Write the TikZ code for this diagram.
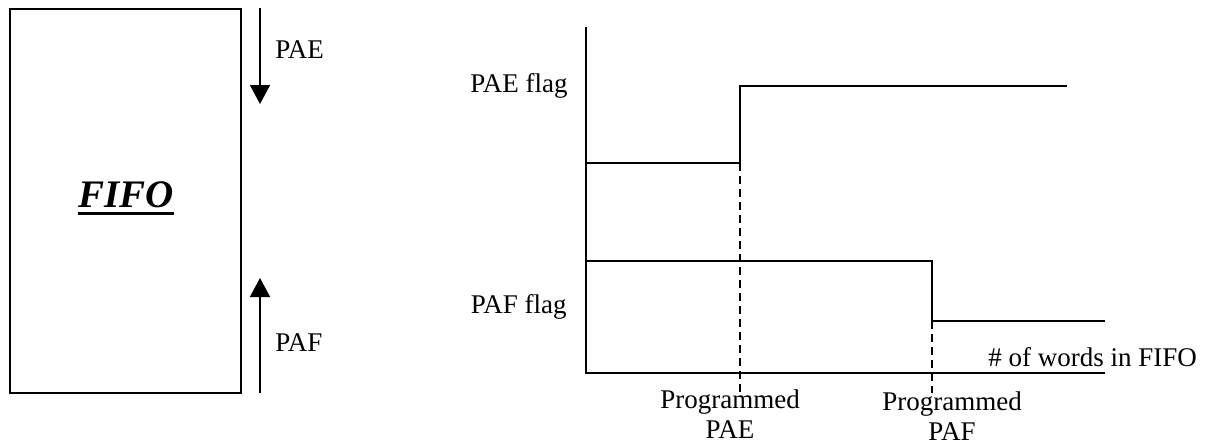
\documentclass[tikz,border=0pt]{standalone}
\usepackage{fontspec}
\setmainfont{Liberation Serif}
\usepackage{tikz}
\usetikzlibrary{arrows.meta,%
                positioning}

\newcommand{\thickul}[1]{\leavevmode\vtop{\hbox{#1}\kern2.2pt\hrule height 1.6pt}}

\tikzset{
  lbl/.style={inner sep=0pt, font=\fontsize{13.5}{15}\selectfont},
  wire/.style={line width=0.75pt},
  arr/.style={line width=0.75pt, -{Triangle[width=10pt,length=9.5pt]}},
  level/.style={line width=0.75pt, dash pattern=on 4pt off 2.5pt}
}

\begin{document}
\begin{tikzpicture}[x=0.5pt,y=-0.5pt]
\useasboundingbox (0,0) rectangle (1213,445);

% fifo block and its two thresholds
\node[wire, draw, minimum width=115.5pt, minimum height=192pt, inner sep=0pt] (fifo) at (125.5,201) {};
\node[inner sep=0pt, anchor=base, font=\fontsize{19.5}{21}\selectfont\bfseries\itshape] (name) at (126,207) {\thickul{FIFO}};

\coordinate (ae1) at (260,8);
\coordinate (ae2) at (260,104);
\coordinate (af1) at (260,393);
\coordinate (af2) at (260,278);
\draw[arr] (ae1) -- (ae2);
\draw[arr] (af1) -- (af2);
\node[lbl, anchor=base west] (lae) at (275,58) {PAE};
\node[lbl, anchor=base west] (laf) at (275,351) {PAF};

% axes
\coordinate (top) at (586,27);
\coordinate (org) at (586,373);
\coordinate (end) at (1105,373);
\draw[wire] (top) -- (org) -- (end);
\node[lbl, anchor=base west] (words) at (988,366) {\# of words in FIFO};

% PAE flag
\coordinate (e0) at (586,163);
\coordinate (e1) at (740,163);
\coordinate (e2) at (740,86);
\coordinate (e3) at (1067,86);
\draw[wire] (e0) -- (e1) -- (e2) -- (e3);
\node[lbl, anchor=base east] (fae) at (568,92) {PAE flag};

% PAF flag
\coordinate (f0) at (586,261);
\coordinate (f1) at (932,261);
\coordinate (f2) at (932,321);
\coordinate (f3) at (1105,321);
\draw[wire] (f0) -- (f1) -- (f2) -- (f3);
\node[lbl, anchor=base east] (faf) at (567,313) {PAF flag};

% programmed levels
\coordinate (pe) at (740,393);
\coordinate (pf) at (932,393);
\draw[level] (e1) -- (pe);
\draw[level] (f2) -- (pf);
\node[lbl, anchor=base, align=center] (tpe) at (730,438) {Programmed\\PAE};
\node[lbl, anchor=base, align=center] (tpf) at (952,440) {Programmed\\PAF};
\end{tikzpicture}
\end{document}
